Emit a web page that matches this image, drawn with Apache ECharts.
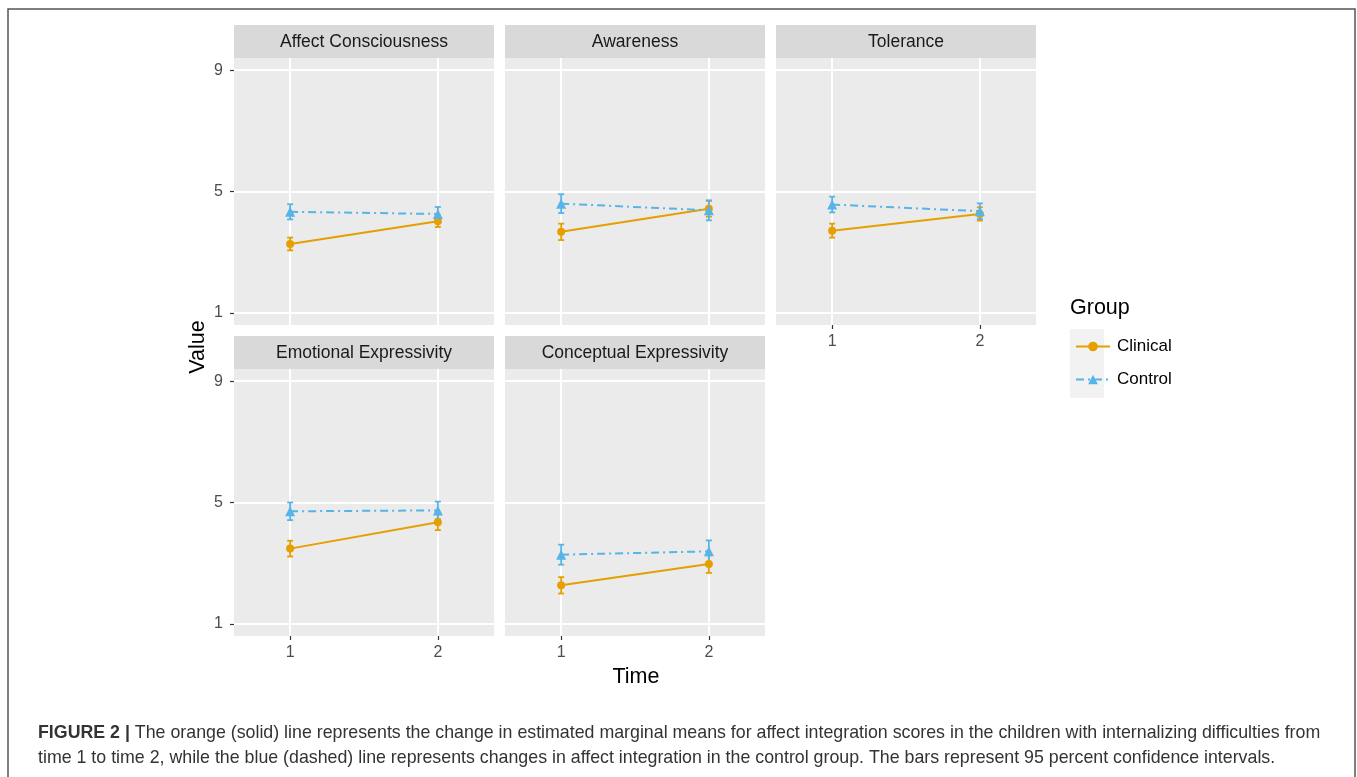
<!DOCTYPE html>
<html>
<head>
<meta charset="utf-8">
<script src="https://cdn.jsdelivr.net/npm/echarts@6/dist/echarts.min.js"></script>
<style>
html,body{margin:0;padding:0;background:#fff;}
#chart{width:1357px;height:777px;}
</style>
</head>
<body>
<div id="chart"></div>
<script>
// ---- data ----
const panels = ['Affect Consciousness', 'Awareness', 'Tolerance', 'Emotional Expressivity', 'Conceptual Expressivity'];
const times = [1, 2];
const clinicalMean = [[3.27, 4.02], [3.67, 4.43], [3.71, 4.26], [3.48, 4.35], [2.27, 2.97]];
const clinicalCI = [[0.21, 0.19], [0.27, 0.26], [0.23, 0.22], [0.26, 0.26], [0.27, 0.29]];
const controlMean = [[4.33, 4.26], [4.60, 4.38], [4.57, 4.35], [4.71, 4.74], [3.28, 3.39]];
const controlCI = [[0.25, 0.23], [0.31, 0.33], [0.26, 0.26], [0.29, 0.29], [0.33, 0.36]];
const yTicks = [1, 5, 9];
const xTicks = [1, 2];
const groups = ['Clinical', 'Control'];

// ---- layout ----
const colLeft = [234, 505, 776];
const rowTop = [58, 369];
const PW = 260, PH = 267, STRIP = 33;
const ORANGE = '#E69F00', BLUE = '#56B4E9';
const FONT = '"Liberation Sans", Arial, sans-serif';

const grids = [], xAxes = [], yAxes = [], series = [], graphics = [];

function errRender(params, api) {
  const x = api.value(0), lo = api.value(1), hi = api.value(2);
  const p1 = api.coord([x, lo]), p2 = api.coord([x, hi]);
  const c = api.visual('color');
  const w = 3;
  const st = { stroke: c, lineWidth: 1.8 };
  return {
    type: 'group',
    children: [
      { type: 'line', shape: { x1: p1[0], y1: p1[1], x2: p2[0], y2: p2[1] }, style: st },
      { type: 'line', shape: { x1: p1[0] - w, y1: p1[1], x2: p1[0] + w, y2: p1[1] }, style: st },
      { type: 'line', shape: { x1: p2[0] - w, y1: p2[1], x2: p2[0] + w, y2: p2[1] }, style: st }
    ]
  };
}

panels.forEach((name, i) => {
  const row = Math.floor(i / 3), col = i % 3;
  const left = colLeft[col], top = rowTop[row];
  const showX = (i >= 2);
  const showY = (col === 0);
  grids.push({ left: left, top: top, width: PW, height: PH, show: true, backgroundColor: '#EBEBEB', borderWidth: 0, containLabel: false });
  xAxes.push({
    type: 'value', gridIndex: i, min: 0.62, max: 2.38,
    axisLine: { show: false },
    axisTick: { show: showX, customValues: xTicks, length: 4, lineStyle: { color: '#333', width: 1.2 } },
    axisLabel: { show: showX, customValues: xTicks, color: '#4D4D4D', fontSize: 16, fontFamily: FONT, margin: 9 },
    splitLine: { show: true, lineStyle: { color: '#FFFFFF', width: 2 } }
  });
  yAxes.push({
    type: 'value', gridIndex: i, min: 0.6, max: 9.4,
    axisLine: { show: false },
    axisTick: { show: showY, customValues: yTicks, length: 4, lineStyle: { color: '#333', width: 1.2 } },
    axisLabel: { show: showY, customValues: yTicks, color: '#4D4D4D', fontSize: 16, fontFamily: FONT, margin: 11 },
    splitLine: { show: true, lineStyle: { color: '#FFFFFF', width: 2 } }
  });
  // error bars
  series.push({
    type: 'custom', name: 'ciClinical' + i, xAxisIndex: i, yAxisIndex: i,
    itemStyle: { color: ORANGE }, renderItem: errRender, silent: true, z: 3,
    data: times.map((t, k) => [t, clinicalMean[i][k] - clinicalCI[i][k], clinicalMean[i][k] + clinicalCI[i][k]])
  });
  series.push({
    type: 'custom', name: 'ciControl' + i, xAxisIndex: i, yAxisIndex: i,
    itemStyle: { color: BLUE }, renderItem: errRender, silent: true, z: 3,
    data: times.map((t, k) => [t, controlMean[i][k] - controlCI[i][k], controlMean[i][k] + controlCI[i][k]])
  });
  series.push({
    type: 'line', name: 'Clinical', xAxisIndex: i, yAxisIndex: i, z: 4,
    symbol: 'circle', symbolSize: 8, itemStyle: { color: ORANGE },
    lineStyle: { color: ORANGE, width: 2, type: 'solid' },
    data: times.map((t, k) => [t, clinicalMean[i][k]])
  });
  series.push({
    type: 'line', name: 'Control', xAxisIndex: i, yAxisIndex: i, z: 4,
    symbol: 'triangle', symbolSize: 10, itemStyle: { color: BLUE },
    lineStyle: { color: BLUE, width: 2, type: [8, 4, 2, 4] },
    data: times.map((t, k) => [t, controlMean[i][k]])
  });
  // strip
  graphics.push({
    type: 'rect', shape: { x: left, y: top - STRIP, width: PW, height: STRIP },
    style: { fill: '#D9D9D9' }, silent: true
  });
  graphics.push({
    type: 'text', x: left + PW / 2, y: top - STRIP / 2 + 1,
    style: { text: name, fill: '#1A1A1A', fontSize: 17.5, fontFamily: FONT, align: 'center', verticalAlign: 'middle' }, silent: true
  });
});

// axis titles
graphics.push({
  type: 'text', x: 198, y: 347, rotation: Math.PI / 2,
  style: { text: 'Value', fill: '#000', fontSize: 21.5, fontFamily: FONT, align: 'center', verticalAlign: 'middle' }
});
graphics.push({
  type: 'text', x: 636, y: 677,
  style: { text: 'Time', fill: '#000', fontSize: 21.5, fontFamily: FONT, align: 'center', verticalAlign: 'middle' }
});
// legend title and key background
graphics.push({
  type: 'text', x: 1070, y: 308,
  style: { text: 'Group', fill: '#000', fontSize: 21.5, fontFamily: FONT, align: 'left', verticalAlign: 'middle' }
});
graphics.push({
  type: 'rect', z: -10, shape: { x: 1070, y: 329, width: 34, height: 69 },
  style: { fill: '#F2F2F2' }, silent: true
});
// border
graphics.push({
  type: 'rect', shape: { x: 8, y: 9, width: 1347, height: 800 },
  style: { fill: 'none', stroke: '#555', lineWidth: 1.5 }, silent: true
});
// caption
graphics.push({
  type: 'text', x: 38, y: 733,
  style: {
    text: '{b|FIGURE 2 |} The orange (solid) line represents the change in estimated marginal means for affect integration scores in the children with internalizing difficulties from',
    fill: '#333', fontSize: 17.8, fontFamily: FONT, align: 'left', verticalAlign: 'middle',
    rich: { b: { fontWeight: 'bold', fontSize: 17.8, fontFamily: FONT, fill: '#333' } }
  }
});
graphics.push({
  type: 'text', x: 38, y: 758,
  style: {
    text: 'time 1 to time 2, while the blue (dashed) line represents changes in affect integration in the control group. The bars represent 95 percent confidence intervals.',
    fill: '#333', fontSize: 17.8, fontFamily: FONT, align: 'left', verticalAlign: 'middle'
  }
});

const chart = echarts.init(document.getElementById('chart'), null, { renderer: 'canvas' });
chart.setOption({
  animation: false,
  backgroundColor: '#FFFFFF',
  grid: grids,
  xAxis: xAxes,
  yAxis: yAxes,
  legend: {
    data: groups, orient: 'vertical', left: 1070, top: 333,
    itemWidth: 34, itemHeight: 12, itemGap: 16,
    textStyle: { fontSize: 17, fontFamily: FONT, color: '#000', padding: [0, 0, 0, 2] },
    selectedMode: false
  },
  series: series,
  graphic: { elements: graphics }
});
</script>
</body>
</html>
